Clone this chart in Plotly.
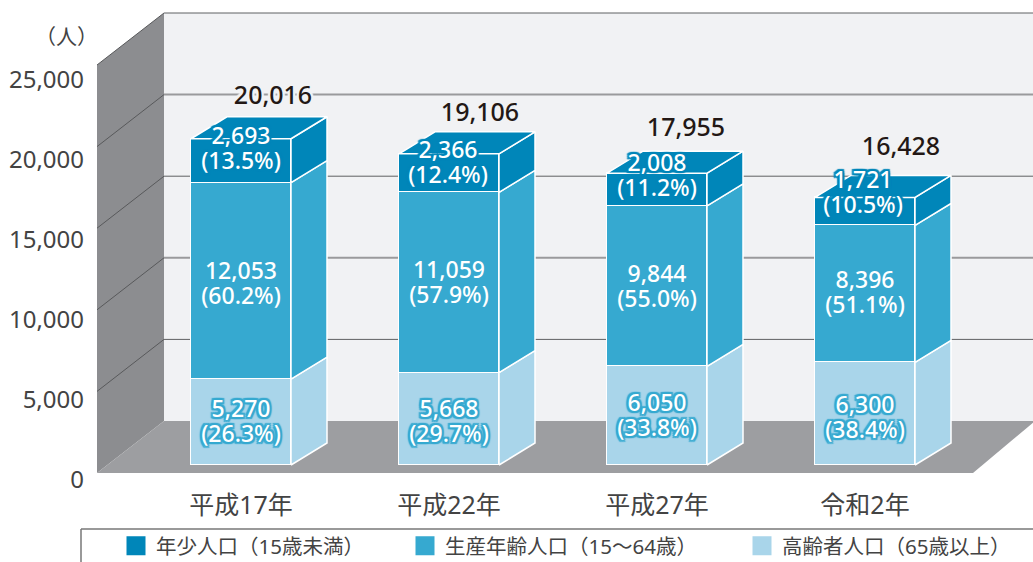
import plotly.graph_objects as go

# ---- data -----------------------------------------------------------------
categories = ["平成17年", "平成22年", "平成27年", "令和2年"]
young = [2693, 2366, 2008, 1721]
working = [12053, 11059, 9844, 8396]
elderly = [5270, 5668, 6050, 6300]
young_pct = ["(13.5%)", "(12.4%)", "(11.2%)", "(10.5%)"]
working_pct = ["(60.2%)", "(57.9%)", "(55.0%)", "(51.1%)"]
elderly_pct = ["(26.3%)", "(29.7%)", "(33.8%)", "(38.4%)"]
totals = [20016, 19106, 17955, 16428]
y_ticks = [0, 5000, 10000, 15000, 20000, 25000]
series_names = ["年少人口（15歳未満）", "生産年齢人口（15～64歳）", "高齢者人口（65歳以上）"]

# ---- style / geometry -----------------------------------------------------
W, H = 1033, 562
PH = H
C_YOUNG, C_WORK, C_OLD = "#0086b9", "#36a9d0", "#a9d5ea"
C_BACK, C_SIDE, C_FLOOR = "#f1f2f4", "#8c8d90", "#9d9ea1"
TXT = "#434343"
FONT = "'Noto Sans', 'Noto Sans CJK JP', sans-serif"
PX_PER = 0.0163           # pixels per person
BASE_PX = 465             # pixel row of value 0 for the bars
CX0, STEP = 241, 208      # pixel of first bar centre, pixels per category
BAR_W = 100
DX, DY = 36, 22           # bar depth in pixels
L, R, T, B = 97, 1033, 13, 473   # main plot box in pixels
n = len(categories)


def px(v):
    return v / W


def py(v):
    return 1 - v / PH


def xd(p):      # pixel distance to x units
    return p / STEP


def yd(p):      # pixel distance to persons
    return p / PX_PER


def outline(color, r=1.5):
    off = [(-r, 0), (r, 0), (0, -r), (0, r), (-r, -r), (r, r), (-r, r), (r, -r)]
    return ", ".join(f"{a}px {b}px 1px {color}" for a, b in off)


fig = go.Figure()
x_idx = list(range(n))

# front faces
segments = [(elderly, C_OLD), (working, C_WORK), (young, C_YOUNG)]
for name, (vals, col) in zip(reversed(series_names), segments):
    fig.add_trace(go.Bar(x=x_idx, y=vals, width=xd(BAR_W), name=name, showlegend=False,
                         marker=dict(color=col, line=dict(color="white", width=1.5)),
                         hoverinfo="skip"))

# side and top faces
hw = xd(BAR_W) / 2
ddx, ddy = xd(DX), yd(DY)
bottoms = [0] * n
for vals, col in segments:
    for i in range(n):
        lo, hi = bottoms[i], bottoms[i] + vals[i]
        fig.add_trace(go.Scatter(
            x=[i + hw, i + hw + ddx, i + hw + ddx, i + hw, i + hw],
            y=[lo, lo + ddy, hi + ddy, hi, lo],
            mode="lines", fill="toself", fillcolor=col,
            line=dict(color="white", width=1.5), showlegend=False, hoverinfo="skip"))
        bottoms[i] = hi
for i in range(n):
    hi = bottoms[i]
    fig.add_trace(go.Scatter(
        x=[i - hw, i + hw, i + hw + ddx, i - hw + ddx, i - hw],
        y=[hi, hi, hi + ddy, hi + ddy, hi],
        mode="lines", fill="toself", fillcolor=C_YOUNG,
        line=dict(color="white", width=1.5), showlegend=False, hoverinfo="skip"))

# segment labels: two text rows per segment, offset in pixels from the segment middle
LINE_GAP = 12.5
TEXT_DROP = 2.5
label_sets = [
    (elderly, elderly_pct, [1, -2, 0, -4], outline(C_WORK, 2), [0, 0, 0, 0]),
    (working, working_pct, [-2, 0, 0, 2], "none", [0, 0, 0, 0]),
    (young, young_pct, [12.5, 11, 14, 19.5], outline(C_YOUNG, 2), [0, -1, 0, -2]),
]
bottoms = [0] * n
for vals, pcts, lift, shadow, nudge in label_sets:
    mids = [bottoms[i] + vals[i] / 2 + yd(lift[i] - TEXT_DROP) for i in range(n)]
    xs = [i + xd(nudge[i]) for i in range(n)]
    fig.add_trace(go.Scatter(x=xs, y=[m + yd(LINE_GAP) for m in mids], mode="text",
                             text=[f"{v:,}" for v in vals], showlegend=False, hoverinfo="skip",
                             textfont=dict(family=FONT, size=23, color="white", weight=500, shadow=shadow)))
    fig.add_trace(go.Scatter(x=xs, y=[m - yd(LINE_GAP) for m in mids], mode="text",
                             text=pcts, showlegend=False, hoverinfo="skip",
                             textfont=dict(family=FONT, size=23, color="white", weight=500, shadow=shadow)))
    bottoms = [bottoms[i] + vals[i] for i in range(n)]

# totals
total_dx = [32, 31, 29, 36]
total_dy = [41, 39, 43, 48]
fig.add_trace(go.Scatter(
    x=[i + xd(total_dx[i]) for i in range(n)],
    y=[totals[i] + yd(total_dy[i]) for i in range(n)],
    mode="text", text=[f"{v:,}" for v in totals], showlegend=False, hoverinfo="skip",
    textfont=dict(family=FONT, size=25, color="#231815", weight=500, shadow=outline(C_BACK, 2))))

# legend entries (one legend each, placed separately) on the tick axis
legend_cols = [C_YOUNG, C_WORK, C_OLD]
legend_ids = ["legend", "legend2", "legend3"]
legend_px = [116, 405, 742]
for name, col, lid in zip(series_names, legend_cols, legend_ids):
    fig.add_trace(go.Scatter(x=[None], y=[None], mode="markers", name=name, legend=lid, yaxis="y2",
                             marker=dict(symbol="square", size=16, color=col,
                                         line=dict(color=col, width=3))))

legend_layouts = {
    lid: dict(x=px(lx), y=py(546), xanchor="left", yanchor="middle", bgcolor="rgba(0,0,0,0)",
              borderwidth=0, itemclick=False, itemdoubleclick=False,
              font=dict(family=FONT, size=20.5, color=TXT))
    for lid, lx in zip(legend_ids, legend_px)
}

# walls, floor, gridlines, legend frame
shapes = []


def poly(points, fill):
    path = "M " + " L ".join(f"{px(a):.5f},{py(b):.5f}" for a, b in points) + " Z"
    return dict(type="path", xref="paper", yref="paper", path=path, fillcolor=fill,
                line=dict(width=0), layer="below")


def seg(x0, y0, x1, y1, color, width):
    return dict(type="line", xref="paper", yref="paper", x0=px(x0), y0=py(y0), x1=px(x1), y1=py(y1),
                line=dict(color=color, width=width), layer="below")


BX, BB, BT = 164, 421, 13
FT = 65
shapes.append(poly([(BX, BT), (R + 2, BT), (R + 2, BB), (BX, BB)], C_BACK))
shapes.append(poly([(L, FT), (BX, BT), (BX, BB), (L, B)], C_SIDE))
shapes.append(poly([(L, B), (BX, BB), (R + 2, BB), (973, B)], C_FLOOR))
for k in range(1, 6):
    dy = (BB - BT) * k / 5
    thick = k in (2, 4)
    shapes.append(seg(BX, BB - dy, R + 2, BB - dy, "#9a9a9c" if thick else "#5f6062", 2 if thick else 1))
    if k < 5:
        shapes.append(seg(L, B - dy, BX, BB - dy, "#58595b", 1))
shapes.append(seg(L, FT, BX, BT, "#58595b", 1))
shapes.append(seg(81, 529, 1034, 529, "#777777", 1.5))
shapes.append(seg(81, 529, 81, 563, "#777777", 1.5))

y2_lo, y2_hi = (479.5 - 500) / 0.016, (479.5 - 60) / 0.016

fig.update_layout(
    width=W, height=H, autosize=False,
    margin=dict(l=0, r=0, t=0, b=0, autoexpand=False),
    paper_bgcolor="white", plot_bgcolor="rgba(0,0,0,0)",
    barmode="stack", bargap=0,
    font=dict(family=FONT, color=TXT),
    shapes=shapes,
    xaxis=dict(domain=[px(L), 1], range=[(L - CX0) / STEP, (R - CX0) / STEP],
               tickmode="array", tickvals=x_idx, ticktext=categories,
               tickfont=dict(family=FONT, size=25, color=TXT),
               showgrid=False, zeroline=False, showline=False,
               ticks="outside", ticklen=10, tickcolor="rgba(0,0,0,0)", fixedrange=True),
    yaxis=dict(domain=[py(B), py(T)], range=[(BASE_PX - B) / PX_PER, (BASE_PX - T) / PX_PER],
               visible=False, fixedrange=True),
    yaxis2=dict(domain=[py(500), py(60)], range=[y2_lo, y2_hi], anchor="free",
                position=px(84), side="left", tickmode="array", tickvals=y_ticks,
                tickformat=",d", tickfont=dict(family=FONT, size=24, color=TXT),
                showgrid=False, zeroline=False, showline=False, ticks="", fixedrange=True),
    annotations=[dict(text="（人）", xref="paper", yref="paper", x=px(66), y=py(36),
                      xanchor="center", yanchor="middle", showarrow=False,
                      font=dict(family=FONT, size=21, color=TXT))],
    **legend_layouts,
)

fig.write_html("out.html", config=dict(displayModeBar=False),
               post_script="document.body.style.margin='0';document.documentElement.style.overflow='hidden';")
